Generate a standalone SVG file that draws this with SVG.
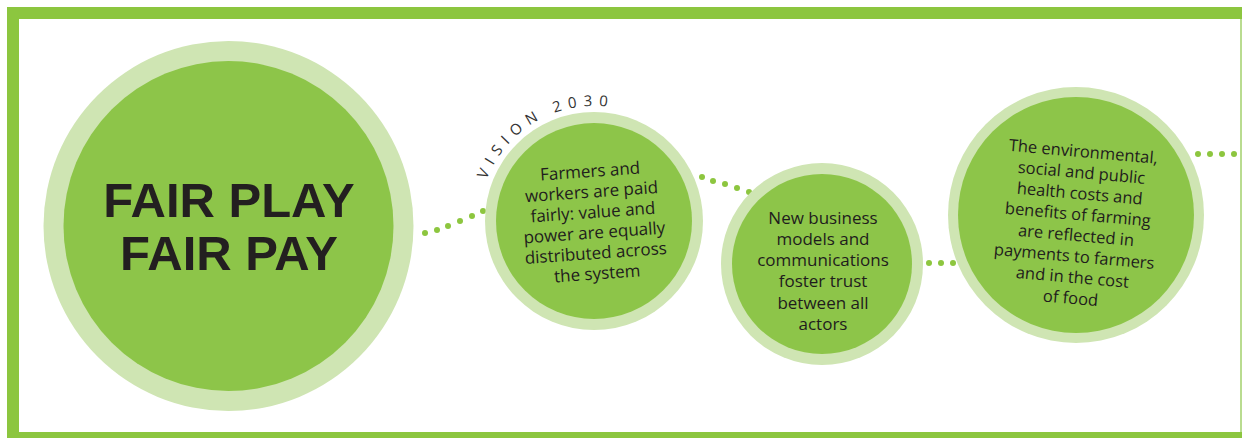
<svg xmlns="http://www.w3.org/2000/svg" width="1242" height="438" viewBox="0 0 1242 438">
<defs>
<style>
.ring{fill:#cfe5b3}
.core{fill:#8dc549}
.dot{fill:#8dc63f}
.txt{font-family:"Open Sans","Liberation Sans",sans-serif;font-size:17px;fill:#1f1c1d;text-anchor:middle}
.big{font-family:"Liberation Sans",Arial,sans-serif;font-weight:bold;font-size:49px;fill:#231f20;text-anchor:middle}
.vis{font-family:"Open Sans","Liberation Sans",sans-serif;font-size:15px;fill:#333333;letter-spacing:6.5px}
.sm{font-size:16.5px}
</style>
<path id="arc" d="M486.6,179.8 A115,115 0 0 1 651.5,121.4"/>
</defs>
<rect x="0" y="0" width="1242" height="438" fill="#ffffff"/>
<g id="frame">
<rect x="7" y="7" width="1235" height="431" fill="#8cc63f"/>
<rect x="19" y="19" width="1221" height="413" fill="#ffffff"/>
<rect x="1240" y="19" width="2" height="413" fill="#b9dc90"/>
</g>
<g id="connectors">
<circle class="dot" cx="425" cy="233" r="3"/>
<circle class="dot" cx="437" cy="230" r="3"/>
<circle class="dot" cx="448" cy="226" r="3"/>
<circle class="dot" cx="460" cy="221" r="3"/>
<circle class="dot" cx="472" cy="216" r="3"/>
<circle class="dot" cx="483" cy="211" r="3"/>
<circle class="dot" cx="702" cy="177" r="3"/>
<circle class="dot" cx="713" cy="181" r="3"/>
<circle class="dot" cx="725" cy="184" r="3"/>
<circle class="dot" cx="737" cy="188" r="3"/>
<circle class="dot" cx="749" cy="192" r="3"/>
<circle class="dot" cx="929" cy="263" r="3"/>
<circle class="dot" cx="941" cy="263" r="3"/>
<circle class="dot" cx="953" cy="263" r="3"/>
<circle class="dot" cx="1198" cy="154" r="3"/>
<circle class="dot" cx="1210" cy="154" r="3"/>
<circle class="dot" cx="1222" cy="154" r="3"/>
<circle class="dot" cx="1234" cy="154" r="3"/>
</g>
<g id="node-fairplay">
<circle class="ring" cx="228.5" cy="226" r="185"/>
<circle class="core" cx="228.5" cy="226" r="165"/>
<text class="big" x="229" y="217">FAIR PLAY</text>
<text class="big" x="229" y="270">FAIR PAY</text>
</g>
<g id="node-farmers">
<circle class="ring" cx="594" cy="221" r="109"/>
<circle class="core" cx="594" cy="221" r="98"/>
<text class="vis"><textPath href="#arc">VISION 2030</textPath></text>
<g transform="rotate(-4 594 228)">
<text class="txt" x="594" y="177">Farmers and</text>
<text class="txt" x="594" y="197.5">workers are paid</text>
<text class="txt" x="594" y="218">fairly: value and</text>
<text class="txt" x="594" y="238.5">power are equally</text>
<text class="txt" x="594" y="259">distributed across</text>
<text class="txt" x="594" y="279.5">the system</text>
</g>
</g>
<g id="node-business">
<circle class="ring" cx="822" cy="264" r="101"/>
<circle class="core" cx="822" cy="264" r="90"/>
<text class="txt" x="823" y="223.5">New business</text>
<text class="txt" x="823" y="244.8">models and</text>
<text class="txt" x="823" y="266.1">communications</text>
<text class="txt" x="823" y="287.4">foster trust</text>
<text class="txt" x="823" y="308.7">between all</text>
<text class="txt" x="823" y="330">actors</text>
</g>
<g id="node-costs">
<circle class="ring" cx="1076" cy="215" r="128"/>
<circle class="core" cx="1076" cy="215" r="118"/>
<g transform="rotate(5 1076 225)">
<text class="txt sm" x="1077" y="157">The environmental,</text>
<text class="txt sm" x="1077" y="178">social and public</text>
<text class="txt sm" x="1077" y="199">health costs and</text>
<text class="txt sm" x="1077" y="220">benefits of farming</text>
<text class="txt sm" x="1077" y="241">are reflected in</text>
<text class="txt sm" x="1077" y="262">payments to farmers</text>
<text class="txt sm" x="1077" y="283">and in the cost</text>
<text class="txt sm" x="1077" y="304">of food</text>
</g>
</g>
</svg>
